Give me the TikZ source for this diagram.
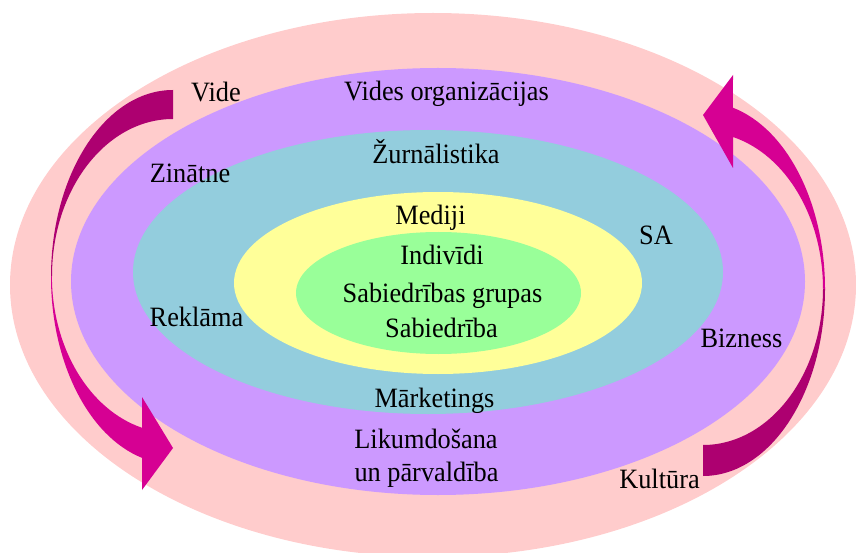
\documentclass[tikz,border=0pt]{standalone}
\usepackage{fontspec}
\setmainfont{Liberation Serif}[FakeStretch=0.94]
\definecolor{cpink}{HTML}{FFCCCC}
\definecolor{cpurple}{HTML}{CC99FF}
\definecolor{cblue}{HTML}{93CDDD}
\definecolor{cyellow}{HTML}{FFFF99}
\definecolor{cgreen}{HTML}{99FF99}
\definecolor{adark}{HTML}{AD0070}
\definecolor{abright}{HTML}{D60093}
\begin{document}
\begin{tikzpicture}[x=1pt,y=-1pt,
  lbl/.style={inner sep=0pt,anchor=base,font=\fontsize{28}{33}\selectfont}]
\useasboundingbox (0,0) rectangle (856,553);
\clip (0,0) rectangle (856,553);
% rings
\fill[cpink]   (433,285)   ellipse [x radius=423,   y radius=272];
\fill[cpurple] (438,281.5) ellipse [x radius=367,   y radius=213.5];
\fill[cblue]   (428,272)   ellipse [x radius=295,   y radius=142];
\fill[cyellow] (438,283)   ellipse [x radius=204,   y radius=91];
\fill[cgreen]  (438.5,293) ellipse [x radius=142.5, y radius=61];
% left arrow
\fill[adark] (173,90) arc [start angle=270, end angle=180, x radius=122, y radius=187]
  -- (52,276) arc [start angle=180, end angle=270, x radius=121, y radius=157] -- cycle;
\fill[abright] (51,277) arc [start angle=180, end angle=104.7, x radius=122, y radius=187]
  -- (142,490) -- (173,448) -- (142,397) -- (142,427.8)
  arc [start angle=104.8, end angle=180, x radius=121, y radius=157] -- cycle;
% right arrow
\fill[adark] (703,476) arc [start angle=90, end angle=0, x radius=122, y radius=187]
  -- (823,288.5) arc [start angle=0, end angle=90, x radius=120, y radius=156.5] -- cycle;
\fill[abright] (825,289) arc [start angle=0, end angle=-75.8, x radius=122, y radius=187]
  -- (733,75) -- (703,115) -- (733,168) -- (733,137)
  arc [start angle=-75.5, end angle=0, x radius=120, y radius=156.5] -- cycle;
% labels
\node[lbl] (vide)   at (216,102)   {Vide};
\node[lbl] (vorg)   at (446.5,101) {Vides organizācijas};
\node[lbl] (zurn)   at (436,164)   {Žurnālistika};
\node[lbl] (zin)    at (190,183)   {Zinātne};
\node[lbl] (med)    at (430.5,225) {Mediji};
\node[lbl] (sa)     at (656,245)   {SA};
\node[lbl] (ind)    at (442,265)   {Indivīdi};
\node[lbl] (sgr)    at (442.5,302) {Sabiedrības grupas};
\node[lbl] (sab)    at (441.5,337) {Sabiedrība};
\node[lbl] (rek)    at (196.5,326) {Reklāma};
\node[lbl] (biz)    at (741.5,347) {Bizness};
\node[lbl] (mark)   at (434.5,407) {Mārketings};
\node[lbl] (lik)    at (426,448)   {Likumdošana};
\node[lbl] (parv)   at (426.5,481) {un pārvaldība};
\node[lbl] (kult)   at (659.5,488) {Kultūra};
\end{tikzpicture}
\end{document}
